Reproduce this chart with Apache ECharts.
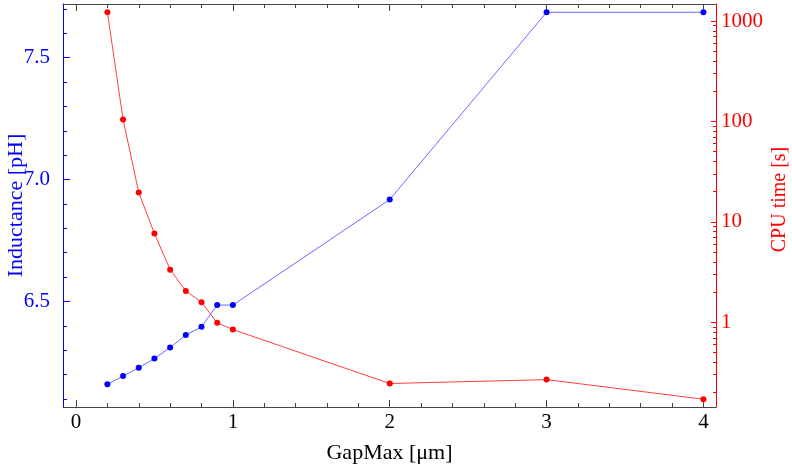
<!DOCTYPE html>
<html>
<head>
<meta charset="utf-8">
<script src="https://cdn.jsdelivr.net/npm/echarts@6/dist/echarts.min.js"></script>
<style>
  html, body { margin: 0; padding: 0; background: #fff; }
  #chart { width: 792px; height: 468px; }
</style>
</head>
<body>
<div id="chart"></div>
<script>
  // values
  const gapMax = [0.2, 0.3, 0.4, 0.5, 0.6, 0.7, 0.8, 0.9, 1.0, 2, 3, 4];
  const inductance = [6.160, 6.194, 6.228, 6.266, 6.311, 6.362, 6.396, 6.485, 6.485, 6.918, 7.686, 7.686];
  const cpuTime = [1221, 104.6, 19.6, 7.64, 3.34, 2.05, 1.58, 0.985, 0.845, 0.245, 0.268, 0.171];

  const xMajor = [0, 1, 2, 3, 4];
  const xMinor = [0.2, 0.4, 0.6, 0.8, 1.2, 1.4, 1.6, 1.8, 2.2, 2.4, 2.6, 2.8, 3.2, 3.4, 3.6, 3.8];
  const indMajor = [6.5, 7.0, 7.5];
  const indMinor = [6.1, 6.2, 6.3, 6.4, 6.6, 6.7, 6.8, 6.9, 7.1, 7.2, 7.3, 7.4, 7.6, 7.7];
  const cpuMajor = [1, 10, 100, 1000];
  const cpuMinor = [0.2, 0.3, 0.4, 0.5, 0.6, 0.7, 0.8, 0.9,
    2, 3, 4, 5, 6, 7, 8, 9, 20, 30, 40, 50, 60, 70, 80, 90,
    200, 300, 400, 500, 600, 700, 800, 900];

  const font = 'Liberation Serif';
  const frame = '#444';
  const blue = '#0000ff';
  const red = '#ff0000';

  function xAx(pos, ticks, len, main) {
    return {
      type: 'value', position: pos, offset: 0, min: -0.083, max: 4.08,
      axisLine: {show: main, onZero: false, lineStyle: {color: frame, width: 1}},
      axisTick: {inside: true, length: len, customValues: ticks, lineStyle: {color: frame}},
      axisLabel: {show: main && pos === 'bottom', customValues: xMajor, margin: 5,
        fontFamily: font, fontSize: 21, color: '#000'},
      splitLine: {show: false}
    };
  }

  const chart = echarts.init(document.getElementById('chart'));
  const x0 = xAx('bottom', xMajor, 7, true);
  x0.name = 'GapMax [\u03bcm]';
  x0.nameLocation = 'middle';
  x0.nameGap = 35;
  x0.nameMoveOverlap = false;
  x0.nameTextStyle = {fontFamily: font, fontSize: 22, color: '#000'};

  const option = {
    animation: false,
    grid: {left: 63, right: 76, top: 4, bottom: 61, containLabel: false, outerBoundsMode: 'none'},
    xAxis: [
      x0,
      xAx('bottom', xMinor, 4, false),
      xAx('top', xMajor, 7, true),
      xAx('top', xMinor, 4, false)
    ],
    yAxis: [
      {
        type: 'value', position: 'left', offset: 0, min: 6.067, max: 7.72,
        name: 'Inductance [pH]', nameLocation: 'middle', nameGap: 36, nameRotate: 90,
        nameMoveOverlap: false,
        nameTextStyle: {fontFamily: font, fontSize: 22, color: blue},
        axisLine: {show: true, onZero: false, lineStyle: {color: blue}},
        axisTick: {inside: true, length: 7, customValues: indMajor, lineStyle: {color: blue}},
        axisLabel: {customValues: indMajor, margin: 13, fontFamily: font, fontSize: 21, color: blue,
          formatter: v => v.toFixed(1)},
        splitLine: {show: false}
      },
      {
        type: 'log', logBase: 10, position: 'right', offset: 0, min: 0.143, max: 1479,
        name: 'CPU time [s]', nameLocation: 'middle', nameGap: 54, nameRotate: 90,
        nameMoveOverlap: false,
        nameTextStyle: {fontFamily: font, fontSize: 20, color: red, padding: [0, 0, 0, 12]},
        axisLine: {show: true, onZero: false, lineStyle: {color: red}},
        axisTick: {inside: true, length: 5, customValues: cpuMajor, lineStyle: {color: red}},
        axisLabel: {customValues: cpuMajor, margin: 5, fontFamily: font, fontSize: 21, color: red,
          formatter: v => String(Math.round(v))},
        splitLine: {show: false}
      },
      {
        type: 'value', position: 'left', offset: 0, min: 6.067, max: 7.72,
        axisLine: {show: false, onZero: false},
        axisTick: {inside: true, length: 4, customValues: indMinor, lineStyle: {color: blue}},
        axisLabel: {show: false},
        splitLine: {show: false}
      },
      {
        type: 'log', logBase: 10, position: 'right', offset: 0, min: 0.143, max: 1479,
        axisLine: {show: false, onZero: false},
        axisTick: {inside: true, length: 3, customValues: cpuMinor, lineStyle: {color: red}},
        axisLabel: {show: false},
        splitLine: {show: false}
      }
    ],
    series: [
      {
        type: 'line', xAxisIndex: 0, yAxisIndex: 0,
        data: gapMax.map((g, i) => [g, inductance[i]]),
        symbol: 'circle', symbolSize: 6,
        lineStyle: {color: '#6a6aff', width: 1},
        itemStyle: {color: blue}
      },
      {
        type: 'line', xAxisIndex: 0, yAxisIndex: 1,
        data: gapMax.map((g, i) => [g, cpuTime[i]]),
        symbol: 'circle', symbolSize: 6,
        lineStyle: {color: '#ff4040', width: 1},
        itemStyle: {color: red}
      }
    ]
  };
  chart.setOption(option);
</script>
</body>
</html>
